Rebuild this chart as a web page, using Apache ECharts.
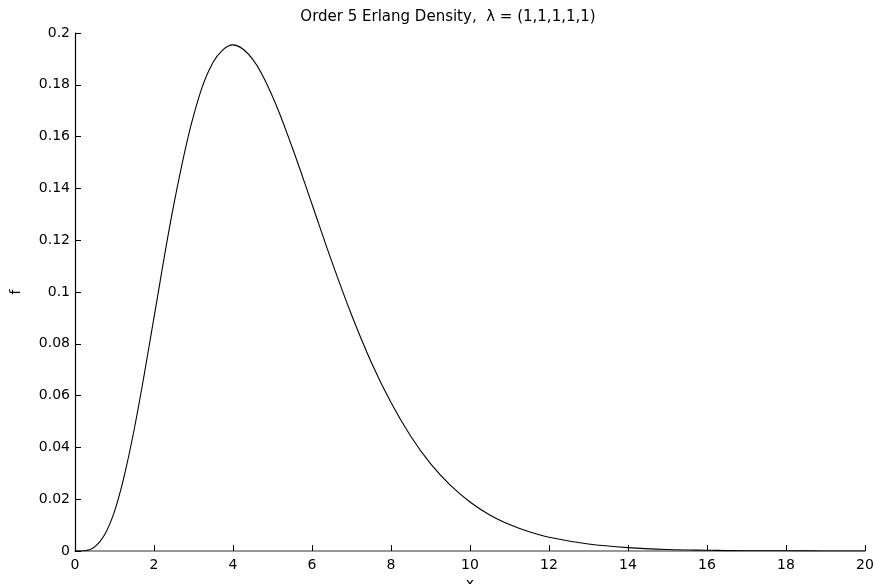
<!DOCTYPE html>
<html>
<head>
<meta charset="utf-8">
<script src="https://cdn.jsdelivr.net/npm/echarts@6/dist/echarts.min.js"></script>
<style>
  html, body { margin: 0; padding: 0; background: #fff; }
  #chart { width: 878px; height: 584px; }
</style>
</head>
<body>
<div id="chart"></div>
<script>
// x positions
const xValues = [0, 0.25, 0.5, 0.75, 1, 1.25, 1.5, 1.75, 2, 2.5, 3, 3.5, 4, 4.5, 5, 5.5, 6, 6.5, 7, 7.5,
  8, 8.5, 9, 9.5, 10, 10.5, 11, 11.5, 12, 13, 14, 15, 16, 17, 18, 19, 20];
// density f
const fValues = [0, 0.0001, 0.0016, 0.0063, 0.0153, 0.0292, 0.0471, 0.0679, 0.0902, 0.1336, 0.1680, 0.1888, 0.1954, 0.1898, 0.1755, 0.1558,
  0.1339, 0.1118, 0.0912, 0.0729, 0.0573, 0.0443, 0.0337, 0.0254, 0.0189, 0.0139, 0.0102, 0.0074, 0.0053,
  0.0027, 0.0013, 0.0006, 0.0003, 0.0001, 0.0001, 0.0000, 0.0000];

const titleText = "Order 5 Erlang Density,  \u03bb = (1,1,1,1,1)";
const fontFamily = "DejaVu Sans";

const chart = echarts.init(document.getElementById("chart"));
const points = xValues.map((x, i) => [x, fValues[i]]);

const option = {
  animation: false,
  backgroundColor: "#fff",
  title: {
    text: titleText,
    left: 443,
    top: 5,
    textAlign: "center",
    textStyle: { fontFamily: fontFamily, fontSize: 15, fontWeight: "normal", color: "#000" },
  },
  grid: { left: 75, right: 13, top: 33, bottom: 33, containLabel: false, outerBoundsMode: "none" },
  xAxis: {
    type: "value",
    min: 0,
    max: 20,
    interval: 2,
    name: "x",
    nameLocation: "middle",
    nameGap: 25,
    nameTextStyle: { fontFamily: fontFamily, fontSize: 14, color: "#000" },
    axisLine: { lineStyle: { color: "#777", width: 1.5 } },
    axisTick: { inside: true, length: 6, lineStyle: { color: "#000" } },
    axisLabel: { fontFamily: fontFamily, fontSize: 14, color: "#000", margin: 7 },
    splitLine: { show: false },
  },
  yAxis: {
    type: "value",
    min: 0,
    max: 0.2,
    interval: 0.02,
    name: "f",
    nameLocation: "middle",
    nameGap: 52,
    nameTextStyle: { fontFamily: fontFamily, fontSize: 14, color: "#000" },
    axisLine: { show: true, lineStyle: { color: "#000", width: 1.2 } },
    axisTick: { show: true, inside: true, length: 6, lineStyle: { color: "#000" } },
    axisLabel: {
      fontFamily: fontFamily,
      fontSize: 14,
      color: "#000",
      margin: 5,
      formatter: (v) => String(parseFloat(v.toFixed(2))),
    },
    splitLine: { show: false },
  },
  series: [
    {
      type: "line",
      data: points,
      smooth: 0.35,
      showSymbol: false,
      lineStyle: { color: "#000", width: 1.1 },
      z: 3,
    },
  ],
};
chart.setOption(option);
</script>
</body>
</html>
